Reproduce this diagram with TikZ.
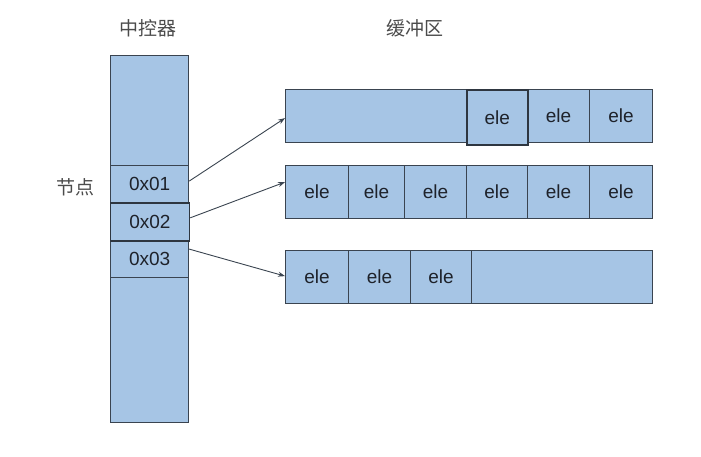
\documentclass[tikz,border=0pt]{standalone}
\usepackage{fontspec}
\setmainfont{Liberation Sans}
\newfontfamily\cjk{Noto Sans CJK SC}
\usetikzlibrary{arrows.meta,calc}
\definecolor{cellfill}{RGB}{166,197,229}
\definecolor{celldraw}{RGB}{58,68,80}
\definecolor{txt}{RGB}{30,34,42}
\definecolor{ttl}{RGB}{75,75,75}
\begin{document}
\begin{tikzpicture}[x=1pt,y=-1pt,
  box/.style={draw=celldraw,fill=cellfill,line width=1.2pt,inner sep=0pt,anchor=north west,font=\fontsize{19}{19}\selectfont,text=txt},
  hl/.style={box,line width=1.7pt,draw=celldraw!80!black},
  title/.style={font=\cjk\fontsize{19}{19}\selectfont,text=ttl},
  link/.style={draw=celldraw,line width=0.9pt,-{Stealth[length=7pt,width=5pt]}}]
\useasboundingbox (0,0) rectangle (701,457);
% column
\node[box,minimum width=78pt,minimum height=367pt] (col) at (110,55) {};
\node[box,minimum width=78pt,minimum height=37pt] (c1) at (110,165) {0x01};
\node[box,minimum width=78pt,minimum height=37pt] (c3) at (110,240) {0x03};
\node[hl,minimum width=79pt,minimum height=38pt] (c2) at (109.5,202) {0x02};
% titles
\node[title] (t1) at (148,28) {中控器};
\node[title] (t2) at (415,28) {缓冲区};
\node[title] (t3) at (75,187) {节点};
% row 1
\node[box,minimum width=367pt,minimum height=53pt] (r1) at (285,89) {};
\node[box,minimum width=62pt,minimum height=53pt] (a2) at (527,89) {ele};
\node[box,minimum width=63pt,minimum height=53pt] (a3) at (589,89) {ele};
\node[hl,minimum width=61pt,minimum height=55pt] (a1) at (466,89) {ele};
% row 2
\node[box,minimum width=367pt,minimum height=53pt] (r2) at (285,165) {};
\node[box,minimum width=63pt,minimum height=53pt] (b1) at (285,165) {ele};
\node[box,minimum width=56pt,minimum height=53pt] (b2) at (348,165) {ele};
\node[box,minimum width=62pt,minimum height=53pt] (b3) at (404,165) {ele};
\node[box,minimum width=61pt,minimum height=53pt] (b4) at (466,165) {ele};
\node[box,minimum width=62pt,minimum height=53pt] (b5) at (527,165) {ele};
\node[box,minimum width=63pt,minimum height=53pt] (b6) at (589,165) {ele};
% row 3
\node[box,minimum width=367pt,minimum height=53pt] (r3) at (285,250) {};
\node[box,minimum width=63pt,minimum height=53pt] (d1) at (285,250) {ele};
\node[box,minimum width=62pt,minimum height=53pt] (d2) at (348,250) {ele};
\node[box,minimum width=61pt,minimum height=53pt] (d3) at (410,250) {ele};
% links
\draw[link] ($(c1.east)+(0,-3)$) -- ($(r1.west)+(0,2)$);
\draw[link] ($(c2.east)+(0,-4)$) -- ($(r2.west)+(0,-10)$);
\draw[link] ($(c3.east)+(0,-10)$) -- ($(r3.west)+(0,-1)$);
\end{tikzpicture}
\end{document}
